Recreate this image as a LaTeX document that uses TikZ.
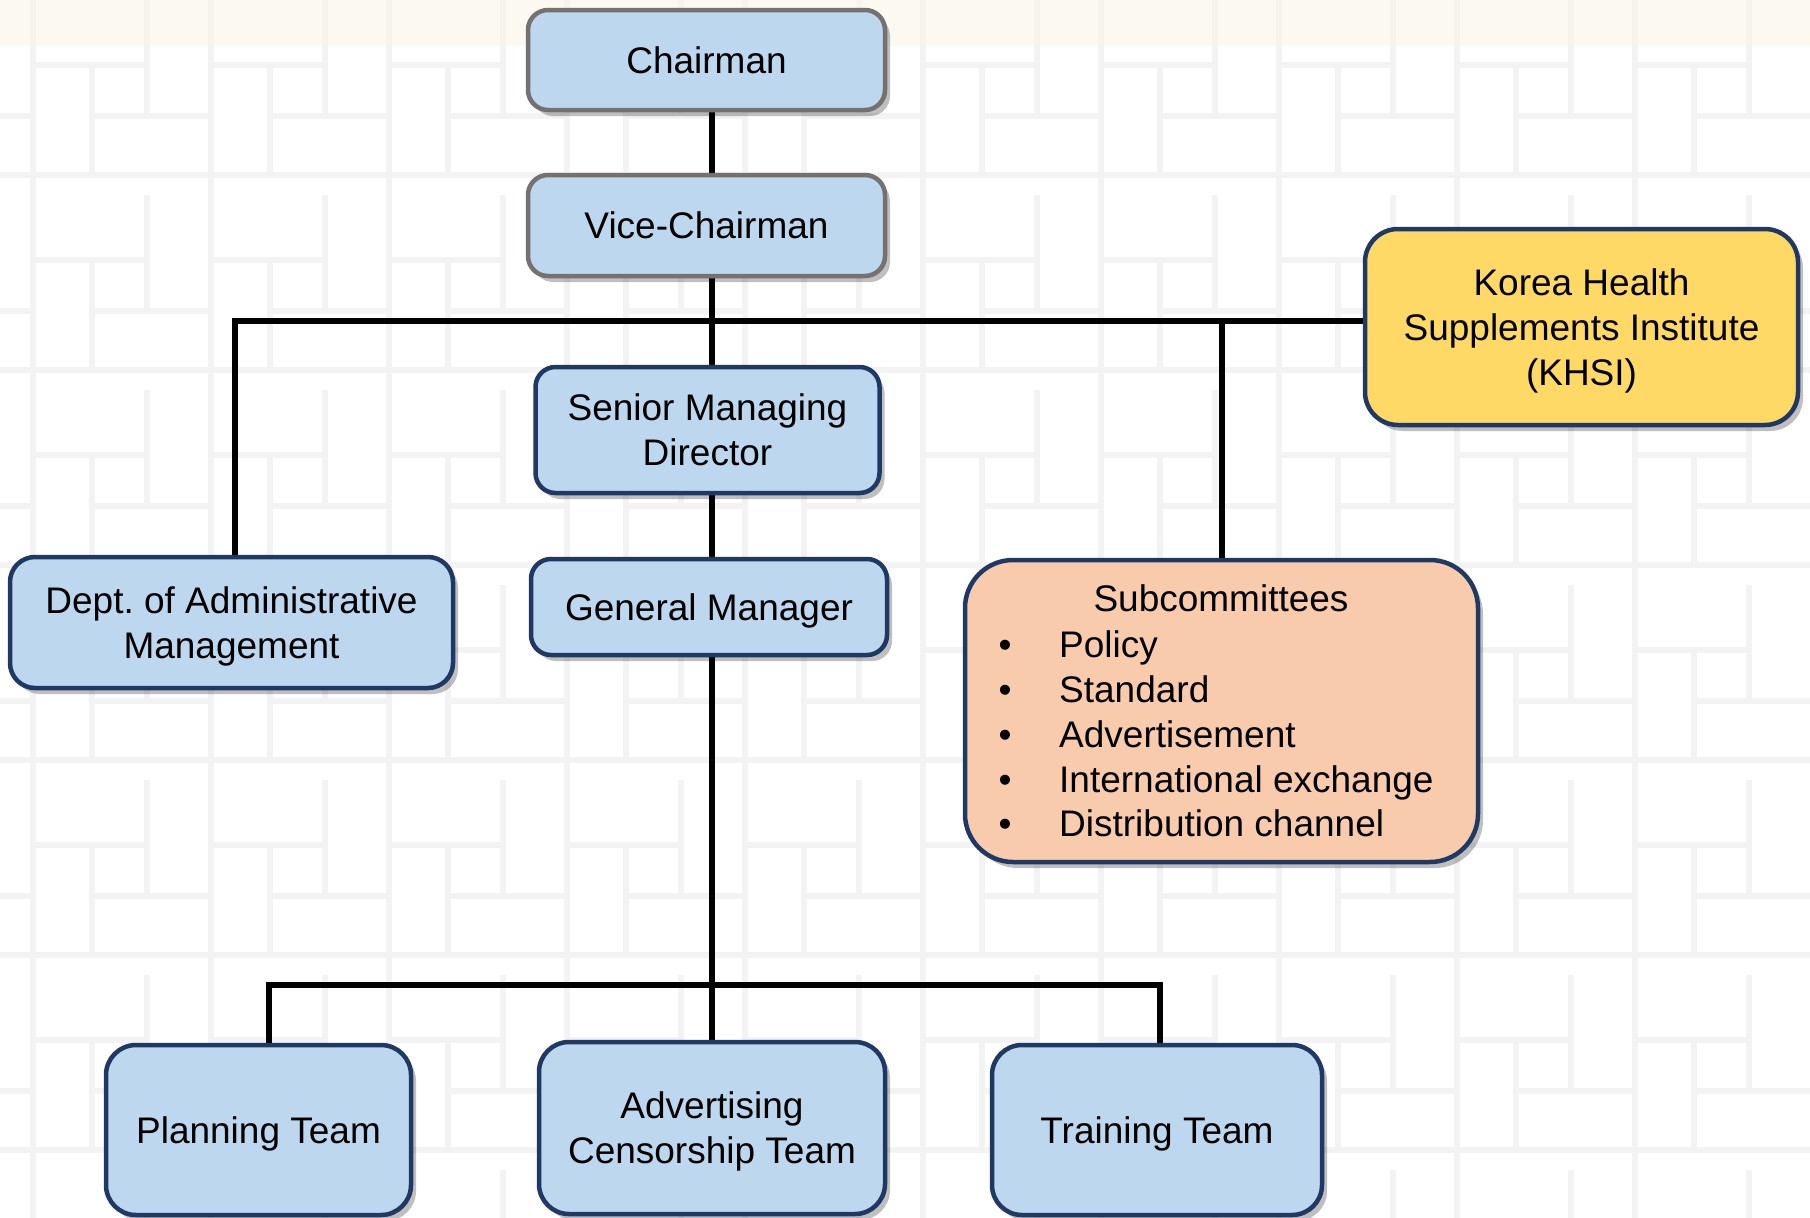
\documentclass[tikz,border=0pt]{standalone}
\usepackage{fontspec}
\setmainfont{Liberation Sans}
\usetikzlibrary{shadows}
\frenchspacing
\definecolor{boxblue}{RGB}{189,215,238}
\definecolor{navy}{RGB}{32,56,100}
\definecolor{greyline}{RGB}{118,113,113}
\definecolor{khsiyellow}{RGB}{255,217,102}
\definecolor{peach}{RGB}{248,203,173}
\definecolor{latticecol}{RGB}{243,243,243}
\definecolor{bandcol}{RGB}{250,245,232}
\newcommand\orgfont{\fontsize{37}{45}\selectfont}
\pgfdeclarelayer{bg}
\pgfdeclarelayer{lines}
\pgfsetlayers{bg,lines,main}
\tikzset{
  orgbox/.style={draw=navy, line width=4.5pt, fill=boxblue, rounded corners=20pt,
    align=center, inner sep=0pt, font=\orgfont, text depth=0pt,
    drop shadow={shadow xshift=5pt, shadow yshift=-6pt, opacity=0.25, fill=black}},
  greybox/.style={orgbox, draw=greyline},
  itemtext/.style={inner sep=0pt, font=\orgfont},
  conn/.style={line width=6pt, black},
  latticeline/.style={line width=6pt, latticecol}
}
\begin{document}
\begin{tikzpicture}[x=1pt,y=-1pt]
\useasboundingbox (0,0) rectangle (1810,1218);
\begin{pgfonlayer}{bg}
\fill[white] (0,0) rectangle (1810,1218);
\begin{scope}
\clip (0,0) rectangle (1810,1218);
\foreach \i in {-1,...,10} {
  \foreach \j in {-1,...,6} {
    \pgfmathsetmacro\X{178*\i}
    \pgfmathsetmacro\Y{195*\j}
    \draw[latticeline] (\X+33,\Y) -- (\X+33,\Y+195);
    \draw[latticeline] (\X,\Y+175) -- (\X+178,\Y+175);
    \draw[latticeline] (\X+92,\Y+65) rectangle (\X+147,\Y+116);
    \draw[latticeline] (\X+92,\Y+116) -- (\X+92,\Y+175);
    \draw[latticeline] (\X+147,\Y) -- (\X+147,\Y+65);
    \draw[latticeline] (\X+33,\Y+65) -- (\X+92,\Y+65);
    \draw[latticeline] (\X+147,\Y+116) -- (\X+211,\Y+116);
  }
}
\fill[bandcol, opacity=0.6] (0,0) rectangle (1810,46);
\end{scope}
\end{pgfonlayer}

% nodes
\node[greybox, minimum width=357, minimum height=100] (chair) at (706.5,60) {Chairman};
\node[greybox, minimum width=357, minimum height=101] (vice) at (706.5,225.5) {Vice-Chairman};
\node[orgbox, minimum width=344, minimum height=126] (smd) at (707.5,430) {Senior Managing\\Director};
\node[orgbox, minimum width=356, minimum height=96] (gm) at (709,607) {General Manager};
\node[orgbox, minimum width=443, minimum height=131, rounded corners=25pt] (dept) at (231.5,622.5) {Dept. of Administrative\\Management};
\node[orgbox, fill=peach, minimum width=513, minimum height=302, rounded corners=48pt] (subc) at (1221.5,711) {};
\node[orgbox, fill=khsiyellow, minimum width=433, minimum height=196, rounded corners=33pt] (khsi) at (1581.5,327) {Korea Health\\Supplements Institute\\(KHSI)};
\node[orgbox, minimum width=305, minimum height=170, rounded corners=30pt] (plan) at (258.5,1130) {Planning Team};
\node[orgbox, minimum width=346, minimum height=172, rounded corners=30pt] (adv) at (712,1128) {Advertising\\Censorship Team};
\node[orgbox, minimum width=330, minimum height=170, rounded corners=30pt] (train) at (1157,1130) {Training Team};

% subcommittee contents
\node[itemtext, anchor=base] (sct) at (1221,611) {Subcommittees};
\node[itemtext, anchor=base] (b1) at (1005,657) {•};
\node[itemtext, anchor=base] (b2) at (1005,702) {•};
\node[itemtext, anchor=base] (b3) at (1005,747) {•};
\node[itemtext, anchor=base] (b4) at (1005,792) {•};
\node[itemtext, anchor=base] (b5) at (1005,836) {•};
\node[itemtext, anchor=base west] (i1) at (1059,657) {Policy};
\node[itemtext, anchor=base west] (i2) at (1059,702) {Standard};
\node[itemtext, anchor=base west] (i3) at (1059,747) {Advertisement};
\node[itemtext, anchor=base west] (i4) at (1059,792) {International exchange};
\node[itemtext, anchor=base west] (i5) at (1059,836) {Distribution channel};

% connectors
\coordinate (trunk) at (712,0);
\coordinate (hl) at (235,321);
\coordinate (bbl) at (269,985);
\coordinate (bbr) at (1160,985);
\begin{pgfonlayer}{lines}
\draw[conn] (chair.south -| trunk) -- (vice.north -| trunk);
\draw[conn] (vice.south -| trunk) -- (smd.north -| trunk);
\draw[conn] (smd.south -| trunk) -- (gm.north -| trunk);
\draw[conn] (gm.south -| trunk) -- (adv.north -| trunk);
\draw[conn] (dept.north -| hl) -- (hl) -- (hl -| khsi.west);
\draw[conn] (subc.north) -- (subc.north |- hl);
\draw[conn] (plan.north -| bbl) -- (bbl) -- (bbr) -- (train.north -| bbr);
\end{pgfonlayer}
\end{tikzpicture}
\end{document}
